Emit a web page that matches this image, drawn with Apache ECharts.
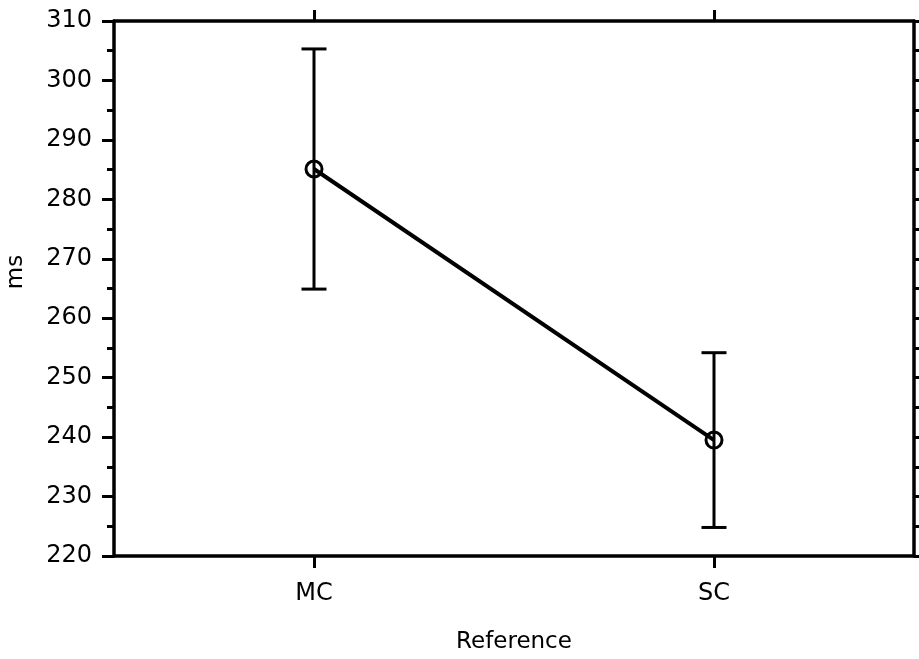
<!DOCTYPE html>
<html>
<head>
<meta charset="utf-8">
<script src="https://cdn.jsdelivr.net/npm/echarts@6/dist/echarts.min.js"></script>
<style>html,body{margin:0;padding:0;background:#fff}#c{width:919px;height:659px}</style>
</head>
<body>
<div id="c"></div>
<script>
var categories = ['MC', 'SC'];
var means = [285.1, 239.5];
var lowers = [264.9, 224.8];
var uppers = [305.3, 254.2];
var yTicks = {min: 220, max: 310, interval: 10};
var xTitle = 'Reference';
var yTitle = 'ms';

var FONT = 'DejaVu Sans';
var errData = categories.map(function (c, i) { return [i, lowers[i], uppers[i]]; });

var chart = echarts.init(document.getElementById('c'), null, {renderer: 'canvas'});
var axisLineStyle = {color: '#000', width: 3.5};
chart.setOption({
  animation: false,
  backgroundColor: '#fff',
  grid: {left: 114, right: 5, top: 21, bottom: 99, containLabel: false},
  xAxis: [{
    type: 'category', data: categories, position: 'bottom', boundaryGap: true,
    axisLine: {show: true, lineStyle: axisLineStyle},
    axisTick: {show: true, alignWithLabel: true, inside: false, length: 12, lineStyle: {color: '#000', width: 3}},
    axisLabel: {margin: 26, color: '#000', fontFamily: FONT, fontSize: 24},
    splitLine: {show: false},
    name: xTitle, nameLocation: 'middle', nameGap: 75,
    nameTextStyle: {color: '#000', fontFamily: FONT, fontSize: 23}
  }, {
    type: 'category', data: categories, position: 'top', boundaryGap: true,
    axisLine: {show: true, lineStyle: axisLineStyle},
    axisTick: {show: true, alignWithLabel: true, inside: false, length: 11, lineStyle: {color: '#000', width: 3}},
    axisLabel: {show: false},
    splitLine: {show: false}
  }],
  yAxis: [{
    type: 'value', position: 'left', min: yTicks.min, max: yTicks.max, interval: yTicks.interval,
    axisLine: {show: true, lineStyle: axisLineStyle},
    axisTick: {show: true, inside: false, length: 12, lineStyle: {color: '#000', width: 3}},
    minorTick: {show: true, splitNumber: 2, length: 7, lineStyle: {color: '#000', width: 3}},
    axisLabel: {margin: 22, color: '#000', fontFamily: FONT, fontSize: 24},
    splitLine: {show: false}, minorSplitLine: {show: false}
  }, {
    type: 'value', position: 'right', min: yTicks.min, max: yTicks.max, interval: yTicks.interval,
    axisLine: {show: true, lineStyle: axisLineStyle},
    axisTick: {show: true, inside: false, length: 6, lineStyle: {color: '#000', width: 3}},
    minorTick: {show: true, splitNumber: 2, length: 6, lineStyle: {color: '#000', width: 3}},
    axisLabel: {show: false},
    splitLine: {show: false}, minorSplitLine: {show: false}
  }],
  graphic: [{
    type: 'text', rotation: Math.PI / 2,
    x: 16, y: 272,
    style: {text: yTitle, fill: '#000', font: '23px "DejaVu Sans"', textAlign: 'center', textVerticalAlign: 'middle'}
  }],
  series: [{
    type: 'custom',
    xAxisIndex: 0, yAxisIndex: 0,
    data: errData,
    z: 1,
    renderItem: function (params, api) {
      var x = api.value(0);
      var lo = api.coord([x, api.value(1)]);
      var hi = api.coord([x, api.value(2)]);
      var hw = 12.5;
      var st = {stroke: '#000', lineWidth: 3, fill: 'none'};
      return {type: 'group', children: [
        {type: 'line', shape: {x1: lo[0], y1: lo[1], x2: hi[0], y2: hi[1]}, style: st},
        {type: 'line', shape: {x1: lo[0] - hw, y1: lo[1], x2: lo[0] + hw, y2: lo[1]}, style: st},
        {type: 'line', shape: {x1: hi[0] - hw, y1: hi[1], x2: hi[0] + hw, y2: hi[1]}, style: st}
      ]};
    }
  }, {
    type: 'line',
    xAxisIndex: 0, yAxisIndex: 0,
    data: means,
    z: 3,
    symbol: 'circle', symbolSize: 16, showSymbol: true,
    lineStyle: {color: '#000', width: 4},
    itemStyle: {color: 'rgba(255,255,255,0)', borderColor: '#000', borderWidth: 3}
  }]
});
</script>
</body>
</html>
